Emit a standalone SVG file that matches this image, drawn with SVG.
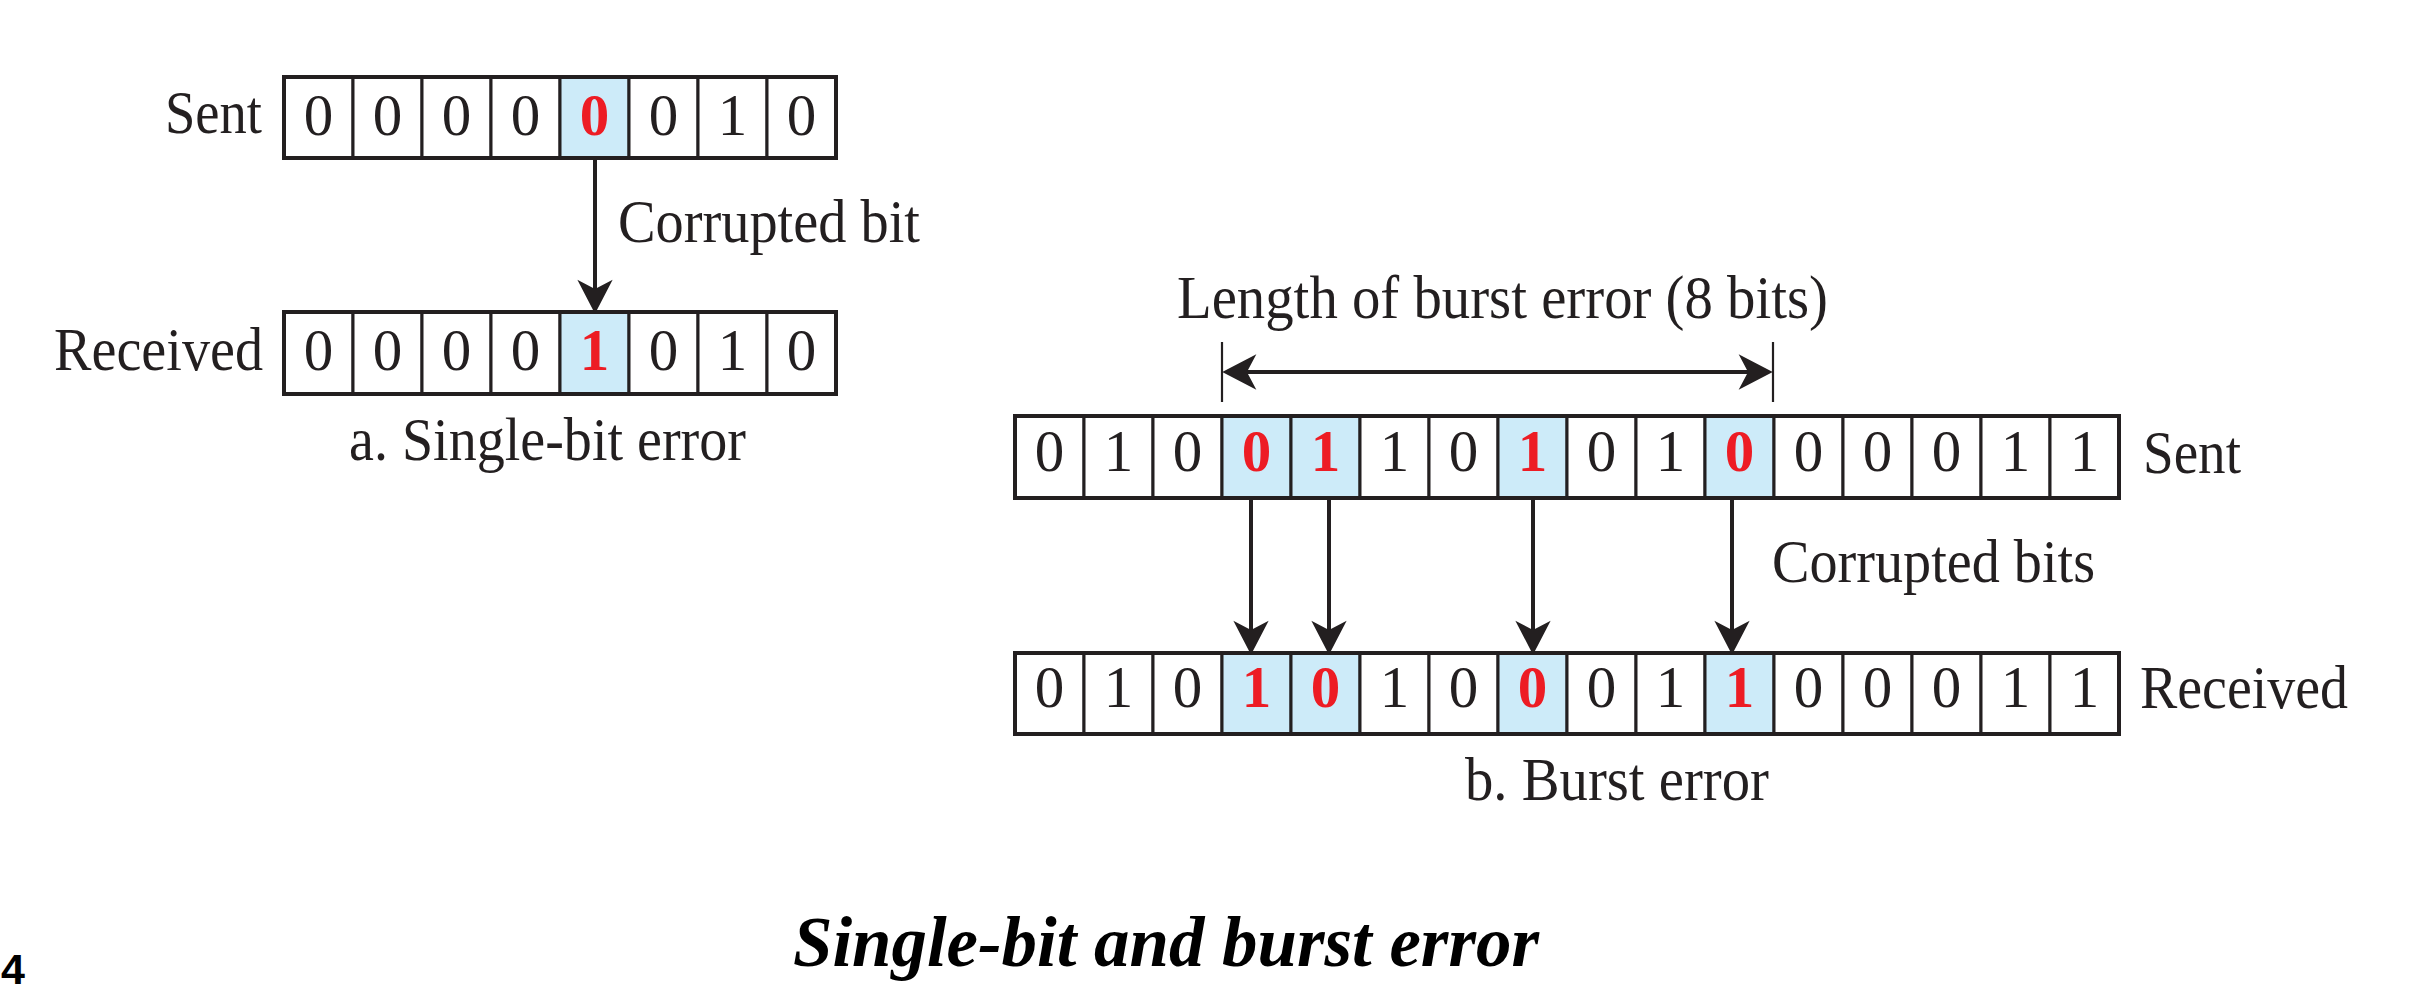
<svg xmlns="http://www.w3.org/2000/svg" width="2413" height="1000" viewBox="0 0 2413 1000">
<defs>
<style>
.bg{fill:#ffffff}
.cell{fill:#ffffff;stroke:#231f20;stroke-width:3}
.hl{fill:#cdebf9;stroke:#231f20;stroke-width:3}
.frame{fill:none;stroke:#231f20;stroke-width:4}
.d{font-family:"Liberation Serif","Times New Roman",serif;font-size:59px;fill:#231f20;text-anchor:middle}
.r{font-family:"Liberation Serif","Times New Roman",serif;font-size:59px;font-weight:bold;fill:#ed1c24;text-anchor:middle}
.lbl{font-family:"Liberation Serif","Times New Roman",serif;font-size:61px;fill:#231f20}
.title{font-family:"Liberation Serif","Times New Roman",serif;font-size:71px;font-weight:bold;font-style:italic;fill:#000000}
.num{font-family:"Liberation Sans",Arial,sans-serif;font-size:43px;font-weight:bold;fill:#000000}
.arr{stroke:#231f20;stroke-width:4;fill:none}
.tick{stroke:#231f20;stroke-width:2.2;fill:none}
</style>
<marker id="ah" markerUnits="userSpaceOnUse" markerWidth="40" markerHeight="40" viewBox="-22 -16 34 32" refX="0" refY="0" orient="auto-start-reverse" overflow="visible">
<path d="M10,0 L-19,-15 L-11,0 L-19,15 Z" fill="#231f20"/>
</marker>
</defs>
<rect class="bg" x="0" y="0" width="2413" height="1000"/>

<!-- Single-bit: Sent row -->
<g id="single-sent">
<rect class="cell" x="284" y="77" width="69" height="81"/>
<rect class="cell" x="353" y="77" width="69" height="81"/>
<rect class="cell" x="422" y="77" width="69" height="81"/>
<rect class="cell" x="491" y="77" width="69" height="81"/>
<rect class="hl" x="560" y="77" width="69" height="81"/>
<rect class="cell" x="629" y="77" width="69" height="81"/>
<rect class="cell" x="698" y="77" width="69" height="81"/>
<rect class="cell" x="767" y="77" width="69" height="81"/>
<rect class="frame" x="284" y="77" width="552" height="81"/>
<text class="d" x="318.5" y="135">0</text>
<text class="d" x="387.5" y="135">0</text>
<text class="d" x="456.5" y="135">0</text>
<text class="d" x="525.5" y="135">0</text>
<text class="r" x="594.5" y="135">0</text>
<text class="d" x="663.5" y="135">0</text>
<text class="d" x="732.5" y="135">1</text>
<text class="d" x="801.5" y="135">0</text>
</g>
<g id="single-sent-label"><text class="lbl" x="262" y="133" text-anchor="end" textLength="97" lengthAdjust="spacingAndGlyphs">Sent</text></g>

<!-- Single-bit: Received row -->
<g id="single-received">
<rect class="cell" x="284" y="312" width="69" height="82"/>
<rect class="cell" x="353" y="312" width="69" height="82"/>
<rect class="cell" x="422" y="312" width="69" height="82"/>
<rect class="cell" x="491" y="312" width="69" height="82"/>
<rect class="hl" x="560" y="312" width="69" height="82"/>
<rect class="cell" x="629" y="312" width="69" height="82"/>
<rect class="cell" x="698" y="312" width="69" height="82"/>
<rect class="cell" x="767" y="312" width="69" height="82"/>
<rect class="frame" x="284" y="312" width="552" height="82"/>
<text class="d" x="318.5" y="370">0</text>
<text class="d" x="387.5" y="370">0</text>
<text class="d" x="456.5" y="370">0</text>
<text class="d" x="525.5" y="370">0</text>
<text class="r" x="594.5" y="370">1</text>
<text class="d" x="663.5" y="370">0</text>
<text class="d" x="732.5" y="370">1</text>
<text class="d" x="801.5" y="370">0</text>
</g>
<g id="single-received-label"><text class="lbl" x="263" y="370" text-anchor="end" textLength="209" lengthAdjust="spacingAndGlyphs">Received</text></g>
<g id="single-corrupted-label"><text class="lbl" x="618" y="242" textLength="302" lengthAdjust="spacingAndGlyphs">Corrupted bit</text></g>
<g id="single-caption"><text class="lbl" x="349" y="460" textLength="397" lengthAdjust="spacingAndGlyphs">a. Single-bit error</text></g>

<!-- Burst: Sent row -->
<g id="burst-sent">
<rect class="cell" x="1015" y="416" width="69" height="82"/>
<rect class="cell" x="1084" y="416" width="69" height="82"/>
<rect class="cell" x="1153" y="416" width="69" height="82"/>
<rect class="hl" x="1222" y="416" width="69" height="82"/>
<rect class="hl" x="1291" y="416" width="69" height="82"/>
<rect class="cell" x="1360" y="416" width="69" height="82"/>
<rect class="cell" x="1429" y="416" width="69" height="82"/>
<rect class="hl" x="1498" y="416" width="69" height="82"/>
<rect class="cell" x="1567" y="416" width="69" height="82"/>
<rect class="cell" x="1636" y="416" width="69" height="82"/>
<rect class="hl" x="1705" y="416" width="69" height="82"/>
<rect class="cell" x="1774" y="416" width="69" height="82"/>
<rect class="cell" x="1843" y="416" width="69" height="82"/>
<rect class="cell" x="1912" y="416" width="69" height="82"/>
<rect class="cell" x="1981" y="416" width="69" height="82"/>
<rect class="cell" x="2050" y="416" width="69" height="82"/>
<rect class="frame" x="1015" y="416" width="1104" height="82"/>
<text class="d" x="1049.5" y="471">0</text>
<text class="d" x="1118.5" y="471">1</text>
<text class="d" x="1187.5" y="471">0</text>
<text class="r" x="1256.5" y="471">0</text>
<text class="r" x="1325.5" y="471">1</text>
<text class="d" x="1394.5" y="471">1</text>
<text class="d" x="1463.5" y="471">0</text>
<text class="r" x="1532.5" y="471">1</text>
<text class="d" x="1601.5" y="471">0</text>
<text class="d" x="1670.5" y="471">1</text>
<text class="r" x="1739.5" y="471">0</text>
<text class="d" x="1808.5" y="471">0</text>
<text class="d" x="1877.5" y="471">0</text>
<text class="d" x="1946.5" y="471">0</text>
<text class="d" x="2015.5" y="471">1</text>
<text class="d" x="2084.5" y="471">1</text>
</g>
<g id="burst-sent-label"><text class="lbl" x="2143" y="473" textLength="98" lengthAdjust="spacingAndGlyphs">Sent</text></g>

<!-- Burst: Received row -->
<g id="burst-received">
<rect class="cell" x="1015" y="653" width="69" height="81"/>
<rect class="cell" x="1084" y="653" width="69" height="81"/>
<rect class="cell" x="1153" y="653" width="69" height="81"/>
<rect class="hl" x="1222" y="653" width="69" height="81"/>
<rect class="hl" x="1291" y="653" width="69" height="81"/>
<rect class="cell" x="1360" y="653" width="69" height="81"/>
<rect class="cell" x="1429" y="653" width="69" height="81"/>
<rect class="hl" x="1498" y="653" width="69" height="81"/>
<rect class="cell" x="1567" y="653" width="69" height="81"/>
<rect class="cell" x="1636" y="653" width="69" height="81"/>
<rect class="hl" x="1705" y="653" width="69" height="81"/>
<rect class="cell" x="1774" y="653" width="69" height="81"/>
<rect class="cell" x="1843" y="653" width="69" height="81"/>
<rect class="cell" x="1912" y="653" width="69" height="81"/>
<rect class="cell" x="1981" y="653" width="69" height="81"/>
<rect class="cell" x="2050" y="653" width="69" height="81"/>
<rect class="frame" x="1015" y="653" width="1104" height="81"/>
<text class="d" x="1049.5" y="707">0</text>
<text class="d" x="1118.5" y="707">1</text>
<text class="d" x="1187.5" y="707">0</text>
<text class="r" x="1256.5" y="707">1</text>
<text class="r" x="1325.5" y="707">0</text>
<text class="d" x="1394.5" y="707">1</text>
<text class="d" x="1463.5" y="707">0</text>
<text class="r" x="1532.5" y="707">0</text>
<text class="d" x="1601.5" y="707">0</text>
<text class="d" x="1670.5" y="707">1</text>
<text class="r" x="1739.5" y="707">1</text>
<text class="d" x="1808.5" y="707">0</text>
<text class="d" x="1877.5" y="707">0</text>
<text class="d" x="1946.5" y="707">0</text>
<text class="d" x="2015.5" y="707">1</text>
<text class="d" x="2084.5" y="707">1</text>
</g>
<g id="burst-received-label"><text class="lbl" x="2140" y="708" textLength="208" lengthAdjust="spacingAndGlyphs">Received</text></g>
<g id="burst-length-label"><text class="lbl" x="1177" y="318" textLength="651" lengthAdjust="spacingAndGlyphs">Length of burst error (8 bits)</text></g>
<g id="burst-corrupted-label"><text class="lbl" x="1772" y="582" textLength="323" lengthAdjust="spacingAndGlyphs">Corrupted bits</text></g>
<g id="burst-caption"><text class="lbl" x="1465" y="800" textLength="304" lengthAdjust="spacingAndGlyphs">b. Burst error</text></g>

<!-- Connectors -->
<g id="connectors">
<line class="arr" x1="595" y1="159" x2="595" y2="302" marker-end="url(#ah)"/>
<line class="arr" x1="1251" y1="499" x2="1251" y2="643" marker-end="url(#ah)"/>
<line class="arr" x1="1329" y1="499" x2="1329" y2="643" marker-end="url(#ah)"/>
<line class="arr" x1="1533" y1="499" x2="1533" y2="643" marker-end="url(#ah)"/>
<line class="arr" x1="1732" y1="499" x2="1732" y2="643" marker-end="url(#ah)"/>
<line class="tick" x1="1222" y1="342" x2="1222" y2="402"/>
<line class="tick" x1="1773" y1="342" x2="1773" y2="402"/>
<line class="arr" x1="1234" y1="372" x2="1761" y2="372" marker-start="url(#ah)" marker-end="url(#ah)"/>
</g>

<g id="title"><text class="title" x="793" y="966" textLength="746" lengthAdjust="spacingAndGlyphs">Single-bit and burst error</text></g>
<g id="page-number"><text class="num" x="1" y="984">4</text></g>
</svg>
